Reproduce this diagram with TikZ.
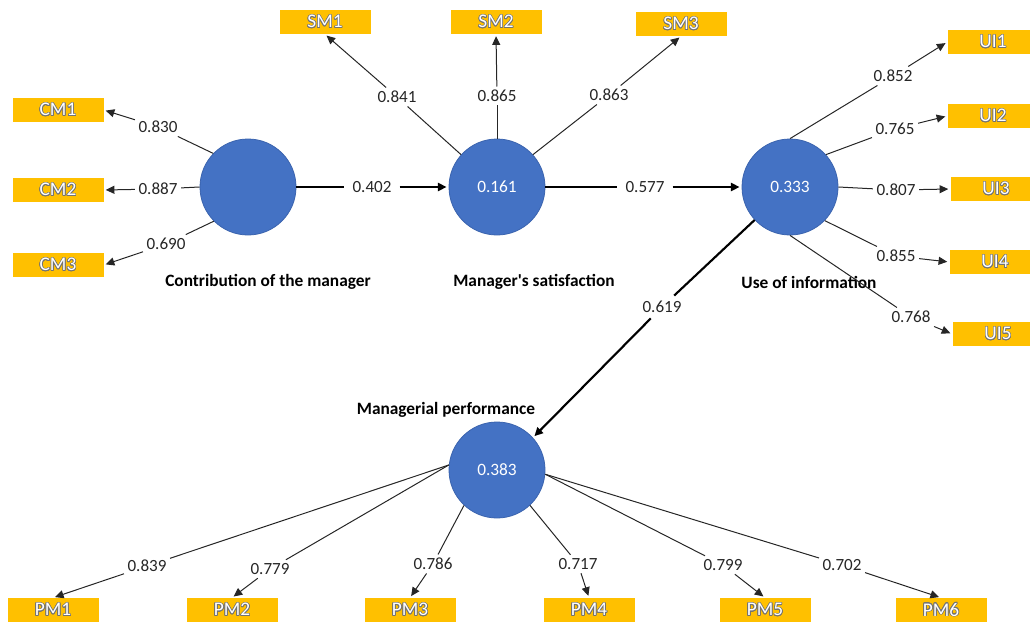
\documentclass[tikz,border=0pt]{standalone}
\usepackage{fontspec}
\setmainfont{Carlito}[Ligatures=TeXOff]
\usepackage{contour}
\contourlength{0.5pt}
\usetikzlibrary{arrows.meta}
\definecolor{lvblue}{HTML}{4472C4}
\definecolor{lvedge}{HTML}{3A63AE}
\definecolor{mvorange}{HTML}{FFC000}
\begin{document}
\begin{tikzpicture}[x=0.75pt,y=-0.75pt,
  lv/.style={circle,fill=lvblue,draw=lvedge,line width=0.6pt,minimum size=72pt,inner sep=0pt,
    text=white,font=\fontsize{13}{15}\selectfont},
  mv/.style={rectangle,fill=mvorange,minimum width=68.25pt,minimum height=18pt,inner sep=0pt,
    text=white,font=\fontsize{14.5}{16}\selectfont},
  ld/.style={inner sep=2.5pt,text=black!85,font=\fontsize{12.8}{14}\selectfont},
  ttl/.style={inner sep=0pt,font=\bfseries\fontsize{13}{15}\selectfont},
  thin/.style={line width=0.75pt,black!85},
  thick/.style={line width=1.6pt,black},
  arr/.style={-{Triangle[length=6.5pt,width=6pt]},shorten >=1.5pt},
]
\useasboundingbox (0,0) rectangle (1030,621);
% latent variables
\node[lv] (cm) at (248,187) {};
\node[lv] (sm) at (497,187) {0.161};
\node[lv] (ui) at (790,187) {0.333};
\node[lv] (pm) at (497,470) {0.383};
% titles
\node[ttl] (tcm) at (268,282) {Contribution of the manager};
\node[ttl] (tsm) at (534,282) {Manager's satisfaction};
\node[ttl] (tui) at (809,282) {Use of information};
\node[ttl] (tpm) at (446,410) {Managerial performance};
% indicators
\node[mv] (cm1) at (58,110) {\contour{black!55}{CM1}};
\node[mv] (cm2) at (58,190) {\contour{black!55}{CM2}};
\node[mv] (cm3) at (58,265) {\contour{black!55}{CM3}};
\node[mv] (sm1) at (325,22) {\contour{black!55}{SM1}};
\node[mv] (sm2) at (496,22) {\contour{black!55}{SM2}};
\node[mv] (sm3) at (681,24) {\contour{black!55}{SM3}};
\node[mv] (ui1) at (993,42) {\contour{black!55}{UI1}};
\node[mv] (ui2) at (993,116) {\contour{black!55}{UI2}};
\node[mv] (ui3) at (996,189) {\contour{black!55}{UI3}};
\node[mv] (ui4) at (995,262) {\contour{black!55}{UI4}};
\node[mv] (ui5) at (998,334) {\contour{black!55}{UI5}};
\node[mv] (pm1) at (53,610) {\contour{black!55}{PM1}};
\node[mv] (pm2) at (232,610) {\contour{black!55}{PM2}};
\node[mv] (pm3) at (410,610) {\contour{black!55}{PM3}};
\node[mv] (pm4) at (589,610) {\contour{black!55}{PM4}};
\node[mv] (pm5) at (765,610) {\contour{black!55}{PM5}};
\node[mv] (pm6) at (941,610) {\contour{black!55}{PM6}};
% loading labels
\node[ld] (l830) at (158,127) {0.830};
\node[ld] (l887) at (158,189) {0.887};
\node[ld] (l690) at (166,244) {0.690};
\node[ld] (l841) at (397,97) {0.841};
\node[ld] (l865) at (497,96) {0.865};
\node[ld] (l863) at (609,95) {0.863};
\node[ld] (l852) at (893,76) {0.852};
\node[ld] (l765) at (895,129) {0.765};
\node[ld] (l807) at (896,190) {0.807};
\node[ld] (l855) at (896,256) {0.855};
\node[ld] (l768) at (911,317) {0.768};
\node[ld] (l839) at (147,566) {0.839};
\node[ld] (l779) at (270,569) {0.779};
\node[ld] (l786) at (433,564) {0.786};
\node[ld] (l717) at (578,564) {0.717};
\node[ld] (l799) at (723,565) {0.799};
\node[ld] (l702) at (842,565) {0.702};
\node[ld,inner sep=6pt] (l402) at (372,187) {0.402};
\node[ld,inner sep=6pt] (l577) at (645,187) {0.577};
\node[ld,inner sep=4pt] (l619) at (662,307) {0.619};
% structural paths
\draw[thick] (cm.east) -- (l402);
\draw[thick,arr] (l402) -- (sm.west);
\draw[thick] (sm.east) -- (l577);
\draw[thick,arr] (l577) -- (ui.west);
\draw[thick] (ui.223) -- (l619);
\draw[thick,arr] (l619) -- (pm.42);
% loadings
\draw[thin] (cm.136) -- (l830); \draw[thin,arr] (l830) -- (cm1.east);
\draw[thin] (cm.180) -- (l887); \draw[thin,arr] (l887) -- (cm2.east);
\draw[thin] (cm.225) -- (l690); \draw[thin,arr] (l690) -- (cm3.east);
\draw[thin] (sm.138) -- (l841); \draw[thin,arr] (l841) -- (sm1.south);
\draw[thin] (sm.90) -- (l865); \draw[thin,arr] (l865) -- (sm2.south);
\draw[thin] (sm.42) -- (l863); \draw[thin,arr] (l863) -- (sm3.south);
\draw[thin] (ui.90) -- (l852); \draw[thin,arr] (l852) -- (ui1.west);
\draw[thin] (ui.42) -- (l765); \draw[thin,arr] (l765) -- (ui2.west);
\draw[thin] (ui.0) -- (l807); \draw[thin,arr] (l807) -- (ui3.west);
\draw[thin] (ui.-44) -- (l855); \draw[thin,arr] (l855) -- (ui4.west);
\draw[thin] (ui.270) -- (l768); \draw[thin,arr] (l768) -- (ui5.west);
\draw[thin] (pm.174) -- (l839); \draw[thin,arr] (l839) -- (pm1.north);
\draw[thin] (pm.174) -- (l779); \draw[thin,arr] (l779) -- (pm2.north);
\draw[thin] (pm.227) -- (l786); \draw[thin,arr] (l786) -- (pm3.north);
\draw[thin] (pm.313) -- (l717); \draw[thin,arr] (l717) -- (pm4.north);
\draw[thin] (pm.-5) -- (l799); \draw[thin,arr] (l799) -- (pm5.north);
\draw[thin] (pm.-5) -- (l702); \draw[thin,arr] (l702) -- (pm6.north);
\end{tikzpicture}
\end{document}
